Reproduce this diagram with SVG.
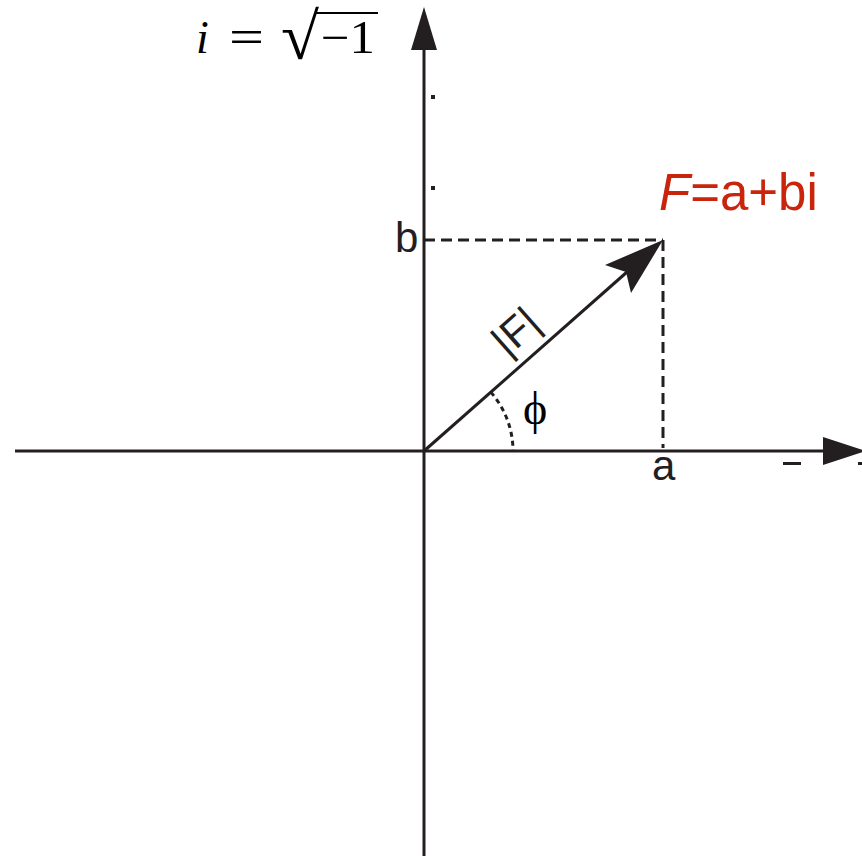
<svg xmlns="http://www.w3.org/2000/svg" width="862" height="856" viewBox="0 0 862 856">
<style>
.ax{stroke:#231f20;stroke-width:3;fill:none}
.dash{stroke:#231f20;stroke-width:3;fill:none;stroke-dasharray:11 6}
.dot{stroke:#231f20;stroke-width:3;fill:none;stroke-dasharray:5 4}
.head{fill:#231f20}
.sans{font-family:"Liberation Sans",Arial,sans-serif;fill:#231f20}
.serif{font-family:"Liberation Serif","DejaVu Serif",serif;fill:#000}
</style>
<rect width="862" height="856" fill="#fff"/>
<g id="connectors">
<line class="ax" x1="424" y1="856" x2="424" y2="45"/>
<polygon class="head" points="424,7 411,50 437,50"/>
<line class="ax" x1="15" y1="451" x2="830" y2="451"/>
<polygon class="head" points="866,451 823,437 823,465"/>
<line class="dash" x1="424" y1="240" x2="663" y2="240"/>
<line class="dash" x1="663" y1="240" x2="663" y2="448"/>
<line class="ax" x1="424" y1="451" x2="627" y2="272"/>
<polygon class="head" points="663,240 605,265 626,272 631,293"/>
<path class="dot" d="M490.7,392.1 A89,89 0 0 1 513,451"/>
</g>
<g id="ticks">
<rect x="431" y="95" width="4" height="4" fill="#231f20"/>
<rect x="431" y="186" width="4" height="4" fill="#231f20"/>
<rect x="783" y="462" width="18" height="3" fill="#231f20"/>
<rect x="858" y="462" width="4" height="3" fill="#231f20"/>
</g>
<g id="label-i">
<text class="serif" x="196" y="53" font-size="46" font-style="italic">i</text>
<text class="serif" x="229" y="53" font-size="48" textLength="35" lengthAdjust="spacingAndGlyphs">=</text>
<text class="serif" x="281" y="59" font-size="66" textLength="38" lengthAdjust="spacingAndGlyphs">√</text>
<line x1="316" y1="13" x2="378" y2="13" stroke="#000" stroke-width="2.2"/>
<text class="serif" x="321" y="53" font-size="46" textLength="54" lengthAdjust="spacingAndGlyphs">−1</text>
</g>
<g id="label-F">
<text x="659" y="210" font-family="'Liberation Sans',Arial,sans-serif" font-size="51" fill="#c8250c"><tspan font-style="italic">F</tspan>=a+bi</text>
</g>
<g id="label-b"><text class="sans" x="395" y="252" font-size="42">b</text></g>
<g id="label-a"><text class="sans" x="652" y="480" font-size="42">a</text></g>
<g id="label-mag"><text class="sans" x="0" y="0" font-size="42" text-anchor="middle" transform="translate(525,342) rotate(-41.5)">|F|</text></g>
<g id="label-phi"><text class="serif" x="535" y="424" font-size="46" text-anchor="middle">ϕ</text></g>
</svg>
